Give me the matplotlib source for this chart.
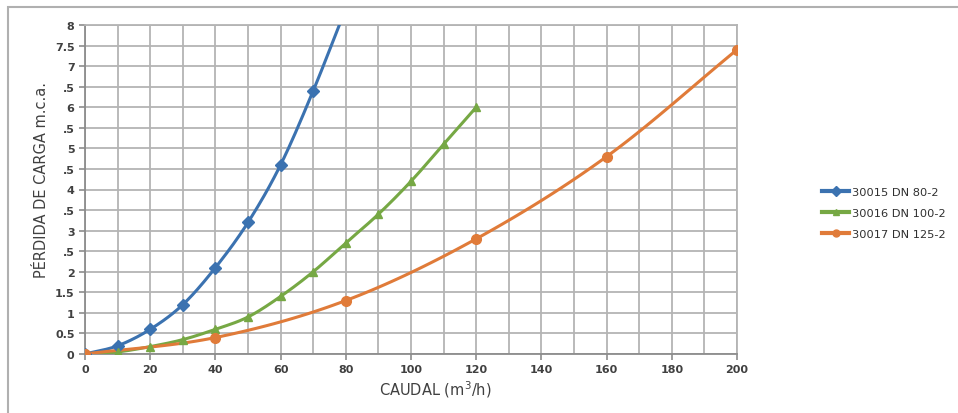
import numpy as np
import matplotlib.pyplot as plt
from matplotlib.patches import Rectangle

# caudal (m3/h) and pérdida de carga (m.c.a.)
x_80 = [0, 10, 20, 30, 40, 50, 60, 70, 80]
y_80 = [0, 0.2, 0.6, 1.2, 2.1, 3.2, 4.6, 6.4, 8.4]

x_100 = [0, 10, 20, 30, 40, 50, 60, 70, 80, 90, 100, 110, 120]
y_100 = [0, 0.05, 0.18, 0.35, 0.6, 0.9, 1.4, 2.0, 2.7, 3.4, 4.2, 5.1, 6.0]

x_125 = [0, 40, 80, 120, 160, 200]
y_125 = [0, 0.4, 1.3, 2.8, 4.8, 7.4]

labels = ['30015 DN 80-2', '30016 DN 100-2', '30017 DN 125-2']
colors = ['#3b72b0', '#76a844', '#e07b39']
markers = ['D', '^', 'o']

yticks = np.arange(0, 8.01, 0.5)
ytick_labels = ['0', '0.5', '1', '1.5', '2', '.5', '3', '.5', '4',
                '.5', '5', '.5', '6', '.5', '7', '7.5', '8']
xticks = np.arange(0, 201, 20)


def smooth(x, y, n=20):
    #==========================================================================
    # Catmull-Rom curve through the points, like the smoothed Excel line
    x = np.asarray(x, float)
    y = np.asarray(y, float)
    px = np.concatenate([[2 * x[0] - x[1]], x, [2 * x[-1] - x[-2]]])
    py = np.concatenate([[2 * y[0] - y[1]], y, [2 * y[-1] - y[-2]]])
    ox, oy = [], []
    t = np.linspace(0, 1, n, endpoint=False)
    for i in range(1, len(px) - 2):
        for p, o in ((px, ox), (py, oy)):
            p0, p1, p2, p3 = p[i - 1], p[i], p[i + 1], p[i + 2]
            o.extend(0.5 * (2 * p1 + (-p0 + p2) * t
                            + (2 * p0 - 5 * p1 + 4 * p2 - p3) * t ** 2
                            + (-p0 + 3 * p1 - 3 * p2 + p3) * t ** 3))
    ox.append(x[-1])
    oy.append(y[-1])
    return np.array(ox), np.array(oy)


fig = plt.figure(figsize=(9.58, 4.14), dpi=100)
fig.patches.append(Rectangle((8 / 958, -0.5), 3, 1.5 - 8 / 414,
                             transform=fig.transFigure, fill=False,
                             edgecolor='#b0b0b0', linewidth=1.5))

ax = fig.add_axes([85 / 958, 1 - 355 / 414, 652 / 958, 329 / 414])

series = [(x_80, y_80), (x_100, y_100), (x_125, y_125)]
for (xs, ys), lab, c, m in zip(series, labels, colors, markers):
    sx, sy = smooth(xs, ys)
    ax.plot(sx, sy, color=c, linewidth=2.2, zorder=3)
    ms = 7 if m == 'o' else 6
    ax.plot(xs, ys, linestyle='none', marker=m, markersize=ms, color=c,
            zorder=4)
    ax.plot([], [], color=c, linewidth=3, marker=m, markersize=5, label=lab)

ax.set_xlim(0, 200)
ax.set_ylim(0, 8)
ax.set_xticks(xticks)
ax.set_xticks(np.arange(0, 201, 10), minor=True)
ax.set_yticks(yticks)
ax.set_yticklabels(ytick_labels)
ax.grid(True, which='both', color='#b4b4b4', linewidth=1.3)
ax.set_axisbelow(True)
for s in ax.spines.values():
    s.set_color('#b4b4b4')
    s.set_linewidth(1.3)
ax.spines['left'].set_color('#8c8c8c')
ax.spines['bottom'].set_color('#8c8c8c')
ax.tick_params(axis='both', which='major', labelsize=8, colors='#8c8c8c',
               labelcolor='#404040', length=4, width=1.2)
ax.tick_params(axis='x', which='minor', length=0)
for t in ax.get_xticklabels() + ax.get_yticklabels():
    t.set_fontweight('bold')

fig.text(435 / 958, 1 - 390 / 414, 'CAUDAL (m$^3$/h)', ha='center',
         va='center', fontsize=10.5, color='#404040')
fig.text(42 / 958, 1 - 180 / 414, 'PÉRDIDA DE CARGA m.c.a.', ha='center',
         va='center', rotation=90, fontsize=10.5, color='#404040')

leg = fig.legend(loc='center left', bbox_to_anchor=(822 / 958, 1 - 214 / 414),
                 frameon=False, fontsize=8.2, handlelength=2.4,
                 labelspacing=0.95, handletextpad=0.2, borderaxespad=0,
                 borderpad=0)
for t in leg.get_texts():
    t.set_color('#303030')

fig.savefig('out.png', dpi=100)
